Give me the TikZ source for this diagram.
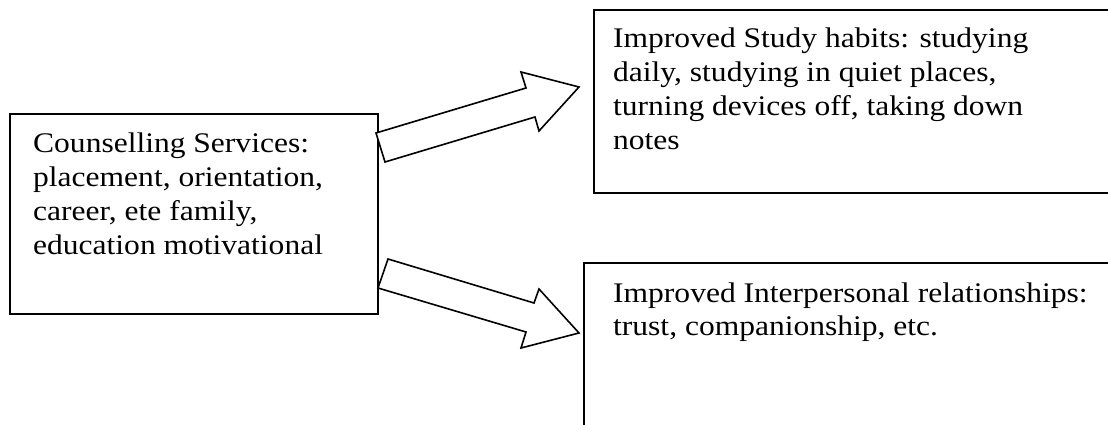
\documentclass[tikz,border=0pt]{standalone}
\usepackage{fontspec}
\setmainfont{Liberation Serif}
\newcommand\widelines[1]{\scalebox{1.11}[1]{\vtop{#1}}}
\begin{document}
\begin{tikzpicture}[x=1pt,y=-1pt,
  boxnode/.style={draw=black, line width=1.8pt, rectangle, inner sep=0pt, anchor=north west},
  txt/.style={anchor=base west, inner sep=0pt, font=\fontsize{28.4}{33.7}\selectfont},
  blockarrow/.style={draw=black, fill=white, line width=1.6pt, line join=miter}]
\useasboundingbox (0,0) rectangle (1108,425);
\clip (0,0) rectangle (1108,425);
% boxes
\node[boxnode, minimum width=368pt, minimum height=200pt] (cs) at (9,113) {};
\node[boxnode, minimum width=600pt, minimum height=183pt] (study) at (593,9) {};
\node[boxnode, minimum width=600pt, minimum height=220pt] (inter) at (583,262) {};
% texts
\node[txt] (cstext) at (33,153) {\widelines{\hbox{Counselling Services:}\hbox{placement, orientation,}\hbox{career, ete family,}\hbox{education motivational}}};
\node[txt] (studytext) at (613,48) {\widelines{\hbox{Improved Study habits: studying}\hbox{daily, studying in quiet places,}\hbox{turning devices off, taking down}\hbox{notes}}};
\node[txt] (intertext) at (613,302) {\widelines{\hbox{Improved Interpersonal relationships:}\hbox{trust, companionship, etc.}}};
% block arrows
\draw[blockarrow] (376,133) -- (526,88) -- (521,72) -- (579,87) -- (539,131) -- (535,117) -- (385,162) -- cycle;
\draw[blockarrow] (388,259) -- (534,303) -- (539,289) -- (579,333) -- (521,348) -- (526,332) -- (378,288) -- cycle;
\end{tikzpicture}
\end{document}
